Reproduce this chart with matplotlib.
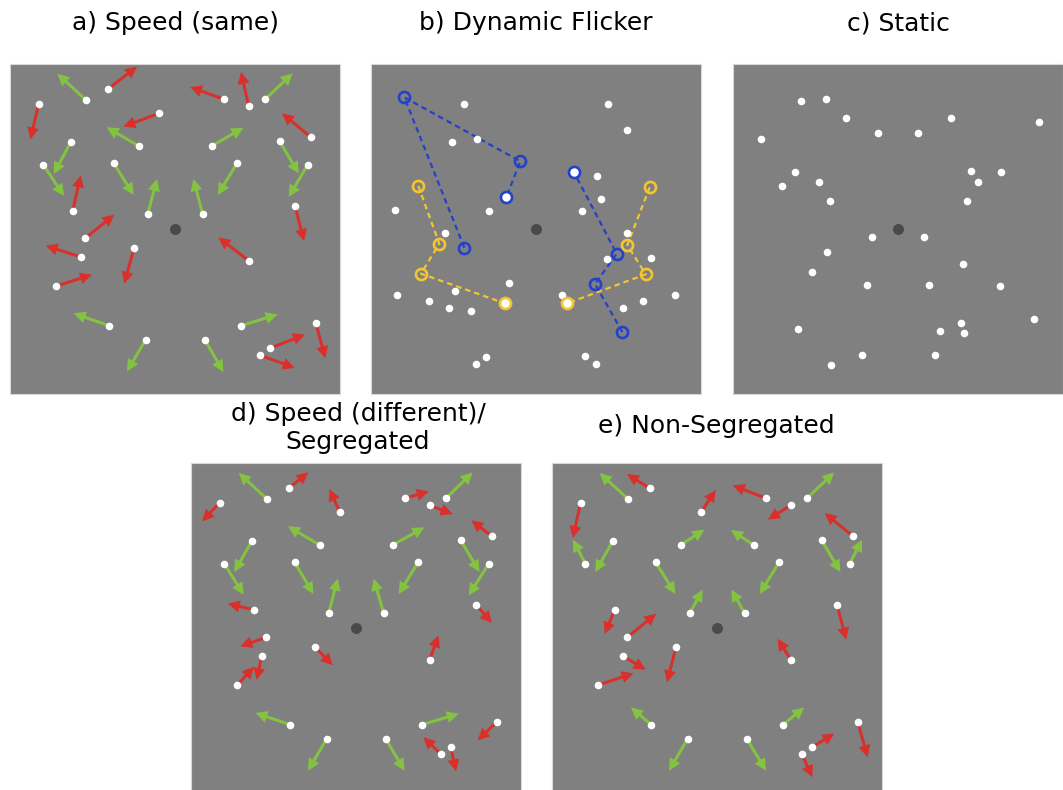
import matplotlib.pyplot as plt
import numpy as np

# panel units: 330 x 330, origin top-left, y pointing down
PANEL = 330
CENTER = 165

# dot positions used by the three motion displays (a, d, e)
motion_x = [75.7, 97.7, 28.7, 149.0, 128.7, 61.0, 33.3, 103.7, 62.7, 137.7, 192.7,
            214.0, 238.7, 255.0, 301.0, 201.7, 269.7, 297.7, 227.0, 285.0, 75.3,
            124.0, 70.7, 46.3, 238.7, 99.3, 135.7, 194.7, 231.0, 305.7, 259.7, 249.7]
motion_y = [35.7, 25.3, 39.7, 49.3, 82.0, 77.7, 100.7, 99.3, 146.7, 150.3, 150.3,
            35.3, 42.3, 35.3, 73.3, 82.0, 77.3, 100.7, 99.3, 141.7, 174.3,
            184.0, 193.0, 222.0, 196.7, 261.7, 275.7, 275.7, 261.7, 259.0, 284.3, 291.0]

# a) speed (same)
same_dx = [-28.3, 29.3, -8.3, -35.7, -32.0, -17.3, 20.7, 20.0, 8.0, 9.3, -9.3,
           -34.0, -7.7, 27.7, -29.0, 31.7, 19.0, -19.0, -19.3, 9.0, 29.0,
           -9.7, -35.0, 35.7, -30.3, -35.7, -18.7, 18.7, 36.7, 9.7, 35.3, 35.0]
same_dy = [-26.0, -22.7, 35.7, 13.3, -18.7, 32.3, 31.3, 31.7, -35.3, -35.3, -35.3,
           -12.3, -34.3, -26.0, -24.0, -18.3, 32.3, 32.3, 31.7, 35.3, -23.7,
           35.7, -11.3, -11.3, -23.3, -12.3, 31.7, 32.3, -11.3, 35.3, -13.7, 13.0]
same_col = ['g', 'r', 'r', 'r', 'g', 'g', 'g', 'g', 'r', 'g', 'g',
            'r', 'r', 'g', 'r', 'g', 'g', 'g', 'g', 'r', 'r',
            'r', 'r', 'r', 'r', 'g', 'g', 'g', 'g', 'r', 'r', 'r']

# d) speed (different) / segregated
diff_dx = [-28.0, 19.7, -17.7, -10.7, -31.7, -17.7, 19.3, 18.7, -26.0, 9.0, -10.0,
           23.7, 23.0, 26.7, -20.7, 31.7, 18.7, -20.0, -19.3, 16.0, -26.0,
           17.7, -5.0, 16.7, 8.7, -35.0, -18.7, 18.7, 36.7, -19.0, 5.3, -17.3]
diff_dy = [-25.7, -16.0, 18.7, -23.3, -18.7, 31.3, 31.0, 31.7, -6.0, -34.7, -34.7,
           -7.0, 8.7, -26.0, -16.0, -17.7, 31.7, 31.7, 31.7, 18.3, 9.0,
           18.3, 24.0, -18.3, -24.3, -11.7, 32.0, 32.0, -11.0, 18.3, 24.0, -17.0]
diff_col = ['g', 'r', 'r', 'r', 'g', 'g', 'g', 'g', 'r', 'g', 'g',
            'r', 'r', 'g', 'r', 'g', 'g', 'g', 'g', 'r', 'r',
            'r', 'r', 'r', 'r', 'g', 'g', 'g', 'g', 'r', 'r', 'r']

# e) non-segregated
nonseg_dx = [-28.0, -22.7, -8.0, 14.7, 23.7, -17.7, -12.3, 19.7, -10.0, 13.0, -13.3,
             -33.3, -22.7, 27.3, -28.3, -22.7, 18.7, 12.3, -19.3, 9.3, 29.0,
             -9.0, 23.0, 35.3, -13.0, -20.3, -18.7, 19.3, 21.3, 10.0, 22.7, 10.7]
nonseg_dy = [-25.7, -14.3, 35.3, -22.3, -15.3, 31.3, -24.0, 31.7, 24.3, -23.7, -23.7,
             -13.0, 14.3, -26.0, -23.3, -15.0, 31.7, -24.0, 31.7, 35.0, -23.7,
             35.3, 13.7, -11.7, -21.0, -17.3, 32.0, 32.0, -17.3, 35.3, -13.7, 23.3]
nonseg_col = ['g', 'r', 'r', 'r', 'g', 'g', 'g', 'g', 'r', 'g', 'g',
              'r', 'r', 'g', 'r', 'g', 'g', 'g', 'g', 'r', 'r',
              'r', 'r', 'r', 'r', 'g', 'g', 'g', 'g', 'r', 'r', 'r']

# b) dynamic flicker: background dots and two tracked paths per colour
flicker_x = [93.0, 237.3, 255.7, 80.7, 106.0, 225.7, 230.0, 24.0, 118.3, 211.3,
             74.0, 255.7, 235.7, 279.7, 138.3, 25.7, 84.0, 58.3, 77.7, 100.0,
             191.0, 252.0, 271.7, 304.3, 114.7, 105.3, 213.7, 225.0]
flicker_y = [40.0, 40.0, 65.7, 78.0, 75.0, 112.3, 135.0, 145.7, 147.3, 147.3,
             169.0, 169.0, 195.3, 194.3, 219.0, 231.0, 227.3, 237.0, 243.7, 247.3,
             231.0, 243.7, 237.0, 231.0, 292.7, 299.7, 291.7, 299.7]
# each path ends at the current (filled) position
blue_left_x = [93.3, 33.3, 149.3, 135.3]
blue_left_y = [183.7, 33.3, 97.3, 133.3]
blue_right_x = [251.3, 224.0, 245.7, 202.7]
blue_right_y = [268.0, 220.0, 189.7, 107.7]
yellow_left_x = [47.3, 68.3, 50.0, 133.7]
yellow_left_y = [122.0, 179.7, 209.7, 239.3]
yellow_right_x = [278.7, 256.3, 274.7, 196.3]
yellow_right_y = [123.3, 181.0, 210.3, 239.3]

# c) static
static_x = [68.0, 92.7, 112.7, 217.7, 306.3, 28.3, 145.0, 185.3, 62.3, 49.3, 85.7,
            237.7, 267.7, 244.7, 96.7, 233.7, 139.3, 191.0, 94.0, 79.0, 230.3,
            134.3, 196.0, 267.0, 300.7, 65.3, 228.3, 206.7, 231.3, 128.7, 201.7, 98.3]
static_y = [37.0, 35.3, 53.7, 53.7, 57.7, 74.7, 68.7, 68.7, 108.0, 121.7, 118.0,
            106.7, 108.0, 118.0, 137.3, 137.3, 173.3, 173.3, 188.0, 208.0, 199.7,
            221.0, 221.0, 221.7, 255.0, 265.3, 259.3, 267.3, 269.0, 291.0, 291.0, 300.7]

titles = ["a) Speed (same)", "b) Dynamic Flicker", "c) Static",
          "d) Speed (different)/\nSegregated", "e) Non-Segregated"]

BG = '#808080'
GREEN = '#84c341'
RED = '#d9302c'
BLUE = '#2342c8'
YELLOW = '#f2c531'
FIX = '#4a4a4a'
colmap = {'g': GREEN, 'r': RED}
DOT_S = 30

W, H = 1063, 790
fig = plt.figure(figsize=(W / 100, H / 100), dpi=100)


def panel(left, top):
    ax = fig.add_axes([left / W, (H - top - PANEL) / H, PANEL / W, PANEL / H])
    ax.set_facecolor(BG)
    ax.set_xlim(0, PANEL)
    ax.set_ylim(PANEL, 0)
    ax.set_xticks([])
    ax.set_yticks([])
    for s in ax.spines.values():
        s.set_color('#d8d8d8')
        s.set_linewidth(0.8)
    ax.scatter([CENTER], [CENTER], s=48, color=FIX, zorder=2)
    return ax


def motion(ax, dx, dy, cols):
    for x, y, u, v, c in zip(motion_x, motion_y, dx, dy, cols):
        ax.arrow(x, y, u, v, width=3.0, head_width=12, head_length=12,
                 length_includes_head=True, fc=colmap[c], ec=colmap[c], lw=0, zorder=3)
    ax.scatter(motion_x, motion_y, s=DOT_S, color='white', lw=0, zorder=4)


ax_a = panel(10, 64)
motion(ax_a, same_dx, same_dy, same_col)

ax_b = panel(371, 64)
ax_b.scatter(flicker_x, flicker_y, s=DOT_S, color='white', lw=0, zorder=4)
for px, py, c in [(blue_left_x, blue_left_y, BLUE), (blue_right_x, blue_right_y, BLUE),
                  (yellow_left_x, yellow_left_y, YELLOW), (yellow_right_x, yellow_right_y, YELLOW)]:
    ax_b.plot(px, py, color=c, lw=1.6, ls=(0, (2.5, 1.8)), zorder=3)
    ax_b.plot(px[:-1], py[:-1], 'o', ms=8, mfc='none', mec=c, mew=1.9, zorder=5)
    ax_b.plot(px[-1:], py[-1:], 'o', ms=8, mfc='white', mec=c, mew=1.9, zorder=5)

ax_c = panel(733, 64)
ax_c.scatter(static_x, static_y, s=DOT_S, color='white', lw=0, zorder=4)

ax_d = panel(191, 463)
motion(ax_d, diff_dx, diff_dy, diff_col)

ax_e = panel(552, 463)
motion(ax_e, nonseg_dx, nonseg_dy, nonseg_col)

fs = 18
fig.text(175 / W, 1 - 23 / H, titles[0], ha='center', va='center', fontsize=fs)
fig.text(536 / W, 1 - 23 / H, titles[1], ha='center', va='center', fontsize=fs)
fig.text(898 / W, 1 - 23 / H, titles[2], ha='center', va='center', fontsize=fs)
fig.text(358 / W, 1 - 428 / H, titles[3], ha='center', va='center', fontsize=fs,
         linespacing=1.2)
fig.text(716 / W, 1 - 426 / H, titles[4], ha='center', va='center', fontsize=fs)

fig.savefig('out.png', dpi=100)
